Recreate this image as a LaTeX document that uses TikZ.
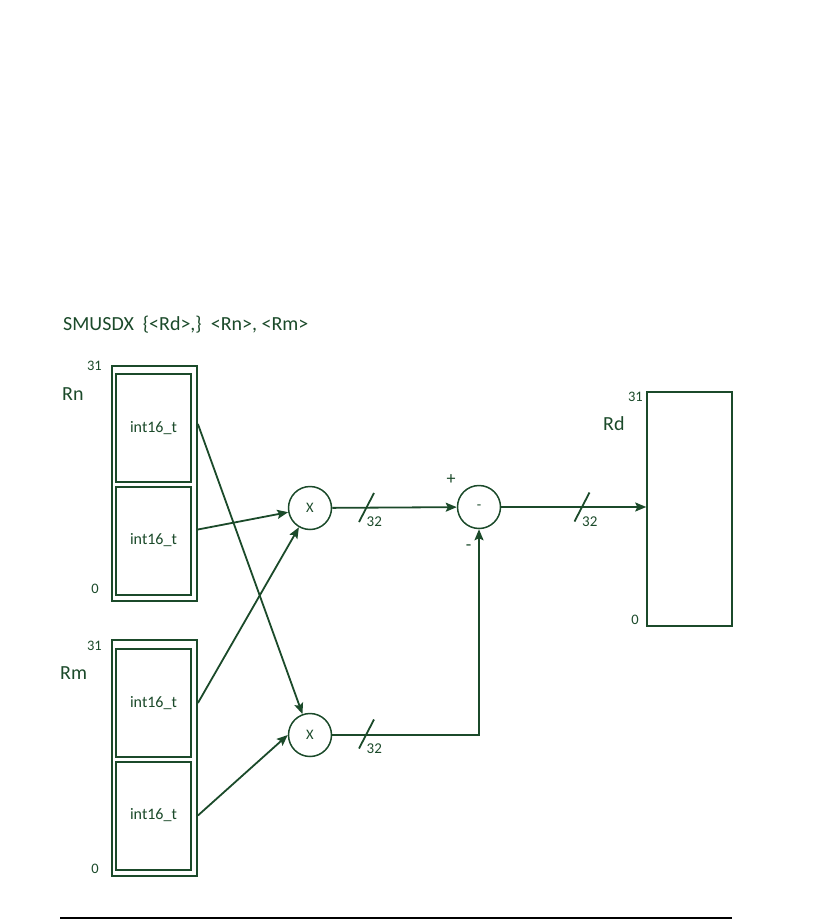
\documentclass[tikz,border=0pt]{standalone}
\usepackage{fontspec}
\setmainfont{Carlito}
\usetikzlibrary{calc}
\usetikzlibrary{arrows.meta}
\definecolor{dkgreen}{RGB}{27,74,42}

\begin{document}
\begin{tikzpicture}[x=1pt, y=-1pt, dkgreen,
  every node/.style={inner sep=0pt, text=dkgreen},
  reg/.style={draw, rectangle, minimum width=85pt, line width=1.8pt},
  half/.style={draw, rectangle, minimum width=75pt, minimum height=108pt, line width=2pt, font=\fontsize{16}{16}\selectfont},
  op/.style={draw, circle, minimum size=43pt, line width=1.5pt, font=\fontsize{14.5}{14.5}\selectfont},
  bit/.style={anchor=base east, font=\fontsize{14.5}{14.5}\selectfont},
  big/.style={anchor=base west, font=\fontsize{20}{20}\selectfont},
  small/.style={font=\fontsize{15}{15}\selectfont},
  sign/.style={font=\fontsize{18}{18}\selectfont},
  wire/.style={line width=1.8pt},
  arr/.style={wire, -{Stealth[length=11pt, width=9pt, inset=2pt]}}]
  \useasboundingbox (0,0) rectangle (834,920);
  \node[big] (title) at (63,330) {SMUSDX\ \ \{<Rd>,\}\ \ <Rn>, <Rm>};
  % Rn register
  \node[reg, minimum height=235pt] (rn) at (154.5,483.5) {};
  \node[half] (rnhi) at (153.5,428) {int16\_t};
  \node[half] (rnlo) at (153.5,540.5) {int16\_t};
  \node[big] (rnname) at (62,400) {Rn};
  \node[bit] (rntop) at (102,370) {31};
  \node[bit] (rnbot) at (99,593) {0};
  % Rm register
  \node[reg, minimum height=236pt] (rm) at (154.5,758) {};
  \node[half] (rmhi) at (153.5,703) {int16\_t};
  \node[half] (rmlo) at (153.5,815.5) {int16\_t};
  \node[big] (rmname) at (60,679) {Rm};
  \node[bit] (rmtop) at (102,650) {31};
  \node[bit] (rmbot) at (99,873) {0};
  % Rd register
  \node[draw, rectangle, minimum width=85pt, minimum height=234pt, line width=1.5pt] (rd) at (689.5,509) {};
  \node[big] (rdname) at (603,430) {Rd};
  \node[bit] (rdtop) at (643,401) {31};
  \node[bit] (rdbot) at (639,624) {0};
  % Multipliers and subtractor
  \node[op] (mula) at (310,508) {X};
  \node[op] (mulb) at (310,735) {X};
  \node[op] (sub) at (479,507) {-};
  \node[sign] (plus) at (451,479.5) {+};
  \node[sign] (minus) at (468.5,548) {-};
  % Crossed products
  \draw[arr] ($(rn.east |- rnhi)+(0,-4)$) -- (mulb);
  \draw[arr] ($(rn.east |- rnlo)+(0,-11)$) -- (mula);
  \draw[arr] (rm.east |- rmhi) -- (mula);
  \draw[arr] (rm.east |- rmlo) -- (mulb.west);
  \draw[arr] (mula) -- (sub);
  \draw[arr] (mulb) -| (sub);
  \draw[arr] (sub) -- (rd.west |- sub);
  % Bus widths
  \foreach \p/\n in {{366.5,507.5}/busa, {582,507}/busb, {366.5,734}/busc} {
    \draw[wire] (\p) +(-7.5,14.5) -- +(7.5,-14.5);
    \node[small, anchor=base west] (\n) at ($(\p)+(0,19)$) {32};
  }
  \draw[black, line width=2pt] (60,918) -- (732,918);
\end{tikzpicture}
\end{document}
